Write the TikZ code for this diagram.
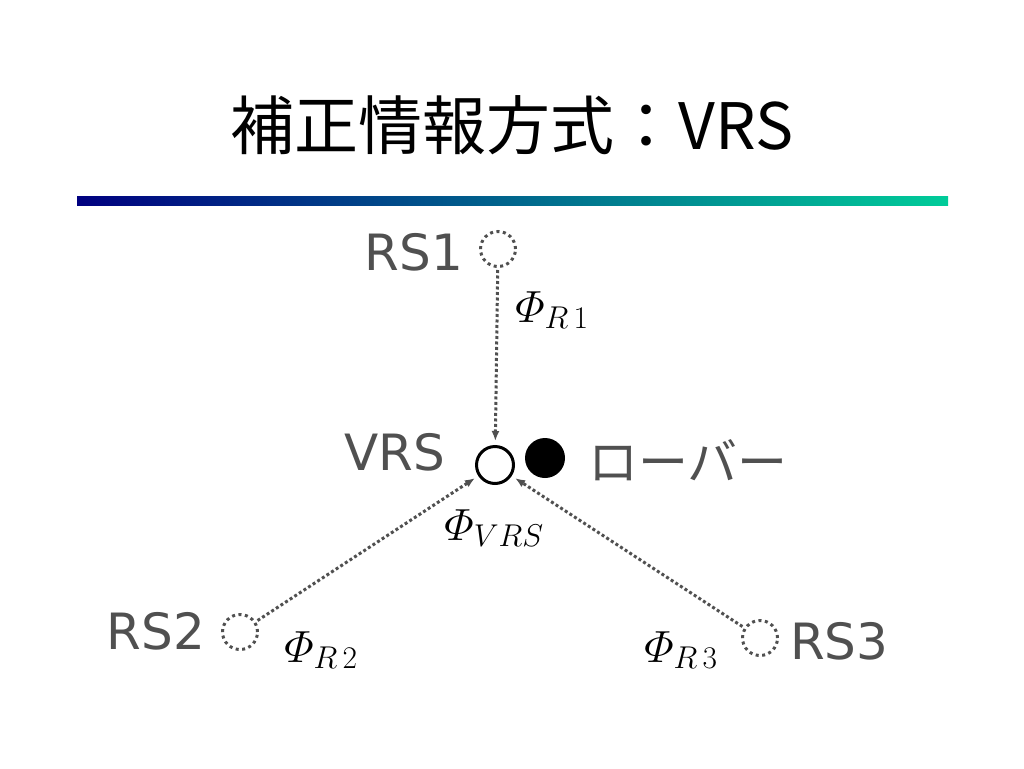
\documentclass[tikz,border=0pt]{standalone}
\usepackage{fix-cm}
\usepackage{amsmath,amssymb}
\usepackage[no-math]{fontspec}
\setmainfont{DejaVu Sans}
\newfontfamily\jpfont{Noto Sans CJK JP}
\usetikzlibrary{arrows.meta}
\definecolor{labelgray}{RGB}{80,80,80}
\definecolor{barnavy}{RGB}{0,0,128}
\definecolor{barteal}{RGB}{0,204,153}

\begin{document}
\begin{tikzpicture}[x=1pt, y=-1pt, >={Latex[length=10pt,width=8pt]},
	station/.style={circle, draw=labelgray, dash pattern=on 3pt off 3.5pt, line width=3pt, minimum size=35pt, inner sep=0pt},
	link/.style={->, labelgray, dash pattern=on 3pt off 2.5pt, line width=3pt, shorten >=4pt, shorten <=2pt},
	sitelabel/.style={text=labelgray, inner sep=0pt, font=\fontsize{50}{60}\selectfont},
	phase/.style={inner sep=0pt, font=\fontsize{45}{54}\selectfont}]
	\useasboundingbox (0,0) rectangle (1024,768);
	\node[font=\jpfont\fontsize{64}{74}\selectfont] (title) at (512,125) {補正情報方式：VRS};
	\shade[left color=barnavy, right color=barteal] (77,196) rectangle (948,205);
	\node[station] (rs1) at (498,249) {};
	\node[station] (rs2) at (240,632) {};
	\node[station] (rs3) at (760,638) {};
	\node[circle, draw, line width=3pt, minimum size=37pt, inner sep=0pt] (vrs) at (495,465) {};
	\node[circle, fill, minimum size=40pt, inner sep=0pt] (rover) at (545,458) {};
	\node[sitelabel, anchor=east] (rs1label) at (463,252) {RS1};
	\node[sitelabel, anchor=east] (vrslabel) at (445,452) {VRS};
	\node[sitelabel, anchor=east] (rs2label) at (205,631) {RS2};
	\node[sitelabel, anchor=west] (rs3label) at (790,641) {RS3};
	\node[sitelabel, anchor=west, font=\jpfont\fontsize{50}{60}\selectfont] (roverlabel) at (588,460) {ローバー};
	\draw[link] (rs1) -- (vrs);
	\draw[link] (rs2) -- (vrs);
	\draw[link] (rs3) -- (vrs);
	\node[phase] (phir1) at (552,310) {$\varPhi_{R\,1}$};
	\node[phase] (phivrs) at (494,528) {$\varPhi_{VRS}$};
	\node[phase] (phir2) at (321,650) {$\varPhi_{R\,2}$};
	\node[phase] (phir3) at (681,650) {$\varPhi_{R\,3}$};
\end{tikzpicture}
\end{document}
